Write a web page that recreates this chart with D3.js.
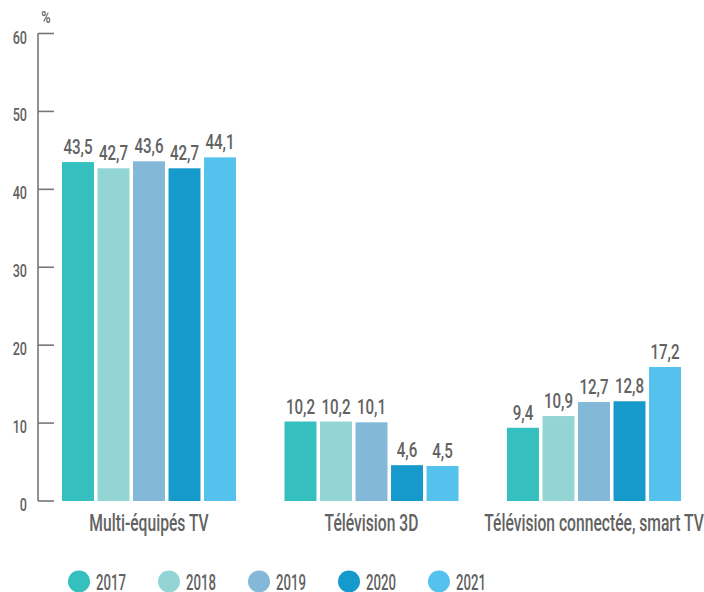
<!DOCTYPE html>
<html>
<head>
<meta charset="utf-8">
<script src="https://cdn.jsdelivr.net/npm/d3@7"></script>
<style>
  body { margin: 0; background: #fff; }
  text { font-family: Roboto, "DejaVu Sans Condensed", sans-serif; fill: #626262; font-weight: 500; }
</style>
</head>
<body>
<div id="chart"></div>
<script>
// data
var categories = ["Multi-équipés TV", "Télévision 3D", "Télévision connectée, smart TV"];
var years = ["2017", "2018", "2019", "2020", "2021"];
var v2017 = [43.5, 10.2, 9.4];
var v2018 = [42.7, 10.2, 10.9];
var v2019 = [43.6, 10.1, 12.7];
var v2020 = [42.7, 4.6, 12.8];
var v2021 = [44.1, 4.5, 17.2];
var yTicks = [0, 10, 20, 30, 40, 50, 60];
var colors = ["#35bfbf", "#93d4d4", "#84b8d9", "#1699cb", "#55c1ed"];

var series = [v2017, v2018, v2019, v2020, v2021];

var width = 704, height = 592;

var svg = d3.select("#chart").append("svg")
    .attr("width", width)
    .attr("height", height);

var y = d3.scaleLinear().domain([0, 60]).range([501, 33.5]);

var x0 = d3.scaleBand().domain(categories).range([62, 681]).paddingInner(0.218);
var x1 = d3.scaleBand().domain(years).range([0, x0.bandwidth()]).paddingInner(0.1);
var color = d3.scaleOrdinal().domain(years).range(colors);

function fmt(v) { return String(v).replace(".", ","); }

// the original font is condensed: squeeze glyphs with textLength
function narrow(sel, k) {
  sel.each(function() {
    var w = this.getComputedTextLength();
    d3.select(this).attr("textLength", w * k).attr("lengthAdjust", "spacingAndGlyphs");
  });
}

// y axis
var axis = svg.append("g");
axis.append("line")
    .attr("x1", 38).attr("x2", 38)
    .attr("y1", y(60)).attr("y2", y(0))
    .attr("stroke", "#777").attr("stroke-width", 1.6);
axis.selectAll(".tick").data(yTicks).enter().append("line")
    .attr("x1", 38).attr("x2", 54)
    .attr("y1", function(d) { return y(d); })
    .attr("y2", function(d) { return y(d); })
    .attr("stroke", "#777").attr("stroke-width", 1.6);
axis.selectAll(".tl").data(yTicks).enter().append("text")
    .attr("text-anchor", "end")
    .attr("font-size", 18)
    .attr("x", 27)
    .attr("y", function(d) { return y(d) + 10; })
    .text(function(d) { return d; })
    .call(narrow, 0.7);

svg.append("text")
    .attr("text-anchor", "middle")
    .attr("font-size", 17)
    .attr("x", 46).attr("y", 23)
    .text("%")
    .call(narrow, 0.75);

// bars
var groups = svg.selectAll(".grp").data(categories).enter().append("g")
    .attr("transform", function(d) { return "translate(" + x0(d) + ",0)"; });

var cells = groups.selectAll("g.cell")
    .data(function(c, ci) { return years.map(function(yr, si) { return { year: yr, value: series[si][ci] }; }); })
    .enter().append("g").attr("class", "cell");

cells.append("rect")
    .attr("x", function(d) { return x1(d.year); })
    .attr("width", x1.bandwidth())
    .attr("y", function(d) { return y(d.value); })
    .attr("height", function(d) { return y(0) - y(d.value); })
    .attr("fill", function(d) { return color(d.year); });

cells.append("text")
    .attr("text-anchor", "middle")
    .attr("font-size", 21)
    .attr("x", function(d) { return x1(d.year) + x1.bandwidth() / 2; })
    .attr("y", function(d) { return y(d.value) - 8; })
    .text(function(d) { return fmt(d.value); })
    .call(narrow, 0.72);

// category labels
svg.selectAll(".cat").data(categories).enter().append("text")
    .attr("text-anchor", "middle")
    .attr("font-size", 23)
    .attr("x", function(d) { return x0(d) + x0.bandwidth() / 2; })
    .attr("y", 531)
    .text(function(d) { return d; })
    .call(narrow, 0.68);

// legend
var legend = svg.selectAll(".leg").data(years).enter().append("g")
    .attr("transform", function(d, i) { return "translate(" + (79 + i * 90) + ",581.5)"; });
legend.append("circle")
    .attr("r", 11)
    .attr("fill", function(d) { return color(d); });
legend.append("text")
    .attr("font-size", 22)
    .attr("x", 17).attr("y", 8)
    .text(function(d) { return d; })
    .call(narrow, 0.6);
</script>
</body>
</html>
